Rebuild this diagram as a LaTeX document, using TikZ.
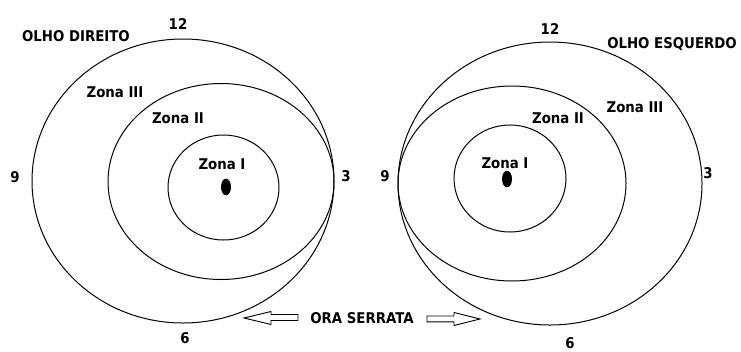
\documentclass[tikz,border=0pt]{standalone}
\usepackage{fontspec}
\setmainfont{DejaVu Sans}[FakeStretch=0.9]
\begin{document}
\begin{tikzpicture}[x=0.75pt,y=-0.75pt,
  lbl/.style={inner sep=0pt,font=\fontsize{11.1pt}{13pt}\selectfont\bfseries},
  ring/.style={line width=0.75pt},
  blockarrow/.style={line width=0.7pt,fill=white,line join=miter}]
\useasboundingbox (0,0) rectangle (741,351);
% ---------- Right eye (OLHO DIREITO) ----------
\draw[ring] (183,181) ellipse [x radius=151,y radius=142];
\draw[ring] (221,181.5) ellipse [x radius=113,y radius=98];
\draw[ring] (223.5,187.5) ellipse [x radius=55.5,y radius=52.5];
\fill (226,187) ellipse [x radius=5,y radius=8.3];
\node[lbl] (od) at (76,36) {OLHO DIREITO};
\node[lbl] (d12) at (178,24) {12};
\node[lbl] (d9) at (15,177) {9};
\node[lbl] (d3) at (346,176) {3};
\node[lbl] (d6) at (185,338) {6};
\node[lbl] (dz3) at (115,92) {Zona III};
\node[lbl] (dz2) at (178,118) {Zona II};
\node[lbl] (dz1) at (222,164) {Zona I};
% ---------- Left eye (OLHO ESQUERDO) ----------
\draw[ring] (550,183.5) ellipse [x radius=152,y radius=141.5];
\draw[ring] (512,183.5) ellipse [x radius=114,y radius=97.5];
\draw[ring] (510,178.5) ellipse [x radius=56,y radius=53.5];
\fill (507,179) ellipse [x radius=5,y radius=8.3];
\node[lbl] (oe) at (672,44) {OLHO ESQUERDO};
\node[lbl] (e12) at (550,29) {12};
\node[lbl] (e9) at (385,176) {9};
\node[lbl] (e3) at (708,173) {3};
\node[lbl] (e6) at (570,343) {6};
\node[lbl] (ez3) at (635,107) {Zona III};
\node[lbl] (ez2) at (558,118) {Zona II};
\node[lbl] (ez1) at (505,163) {Zona I};
% ---------- Ora serrata ----------
\node[lbl] (ora) at (362,318) {ORA SERRATA};
\draw[blockarrow] (298,314.5) -- (271,314.5) -- (271,311.5) -- (244,318) -- (271,324.5) -- (271,320.5) -- (298,320.5) -- cycle;
\draw[blockarrow] (427,316) -- (454,316) -- (454,312.5) -- (480,319) -- (454,325.5) -- (454,321.8) -- (427,321.8) -- cycle;
\end{tikzpicture}
\end{document}
